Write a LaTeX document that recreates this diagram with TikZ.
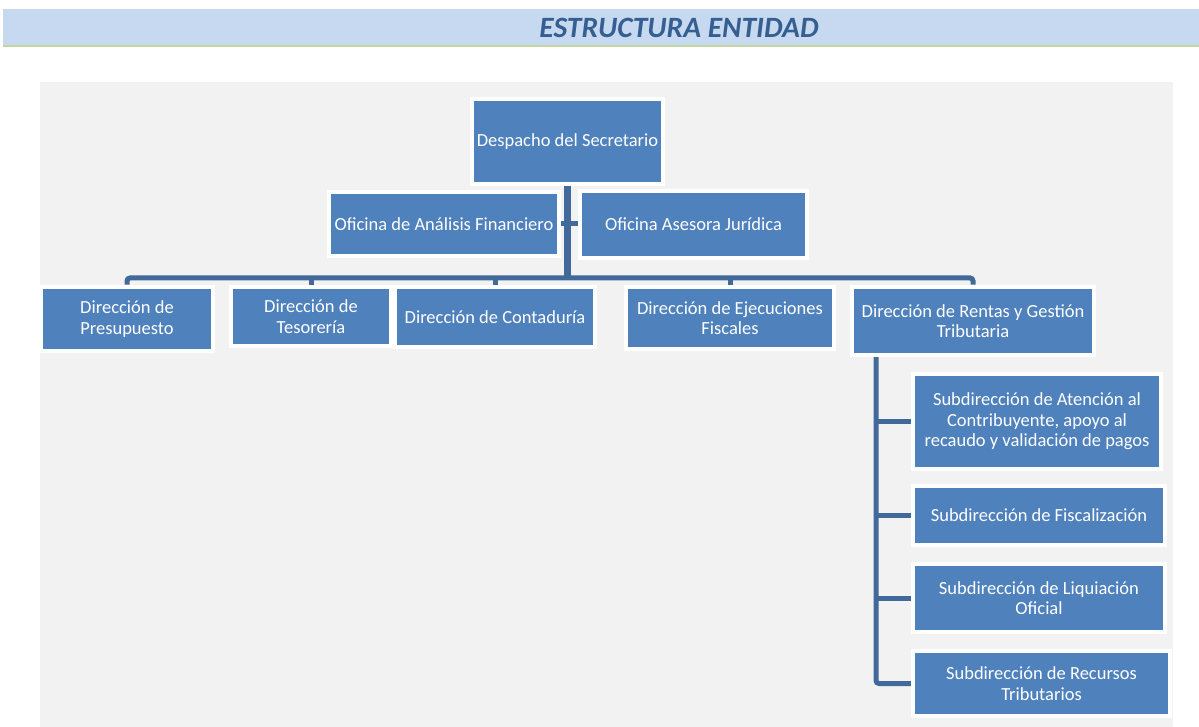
\documentclass[tikz,border=0pt]{standalone}
\usepackage{fontspec}
\setmainfont{Carlito}
\pgfdeclarelayer{bg}
\pgfdeclarelayer{panel}
\pgfsetlayers{panel,bg,main}
\definecolor{boxblue}{HTML}{4F81BD}
\definecolor{connblue}{HTML}{41699A}
\definecolor{bandblue}{HTML}{C6D9F1}
\definecolor{bandgreen}{HTML}{C2D69B}
\definecolor{titleblue}{HTML}{365F91}
\definecolor{panelgray}{HTML}{F2F2F2}
\begin{document}
\begin{tikzpicture}[x=1pt,y=-1pt,
  unit/.style={rectangle, fill=boxblue, draw=white, line width=4.5pt, text=white,
    align=center, inner sep=0pt, font=\fontsize{18.5}{20.5}\selectfont},
  conn/.style={draw=connblue, line width=5pt},
  trunk/.style={draw=connblue, line width=6.5pt}]
\useasboundingbox (0,0) rectangle (1199,727);
% header
\fill[bandblue] (3,9) rectangle (1199,45);
\fill[bandgreen] (3,45) rectangle (1199,47.5);
\node[font=\fontsize{29.5}{32}\selectfont\bfseries\itshape, text=titleblue] (title) at (679,28) {ESTRUCTURA ENTIDAD};
% panel
\begin{pgfonlayer}{panel}
\fill[panelgray] (40,82) rectangle (1173,727);
\end{pgfonlayer}
% nodes
\node[unit, minimum width=191pt, minimum height=85pt] (desp) at (567.5,141.5) {Despacho del Secretario};
\node[unit, minimum width=230pt, minimum height=64pt] (ofa) at (444,224) {Oficina de Análisis Financiero};
\node[unit, minimum width=227pt, minimum height=67pt] (ofj) at (693.5,224.5) {Oficina Asesora Jurídica};
\node[unit, minimum width=172pt, minimum height=64pt] (pres) at (127,319) {Dirección de\\Presupuesto};
\node[unit, minimum width=160pt, minimum height=59pt] (tes) at (311,316.5) {Dirección de\\Tesorería};
\node[unit, minimum width=200pt, minimum height=60pt] (cont) at (495,317) {Dirección de Contaduría};
\node[unit, minimum width=208pt, minimum height=62pt] (ejec) at (730,318) {Dirección de Ejecuciones\\Fiscales};
\node[unit, minimum width=242pt, minimum height=68pt] (rent) at (973,321) {Dirección de Rentas y Gestión\\Tributaria};
\node[unit, minimum width=248pt, minimum height=95pt] (s1) at (1037,421.5) {Subdirección de Atención al\\Contribuyente, apoyo al\\recaudo y validación de pagos};
\node[unit, minimum width=252pt, minimum height=59pt] (s2) at (1039,515.5) {Subdirección de Fiscalización};
\node[unit, minimum width=252pt, minimum height=68pt] (s3) at (1039,598) {Subdirección de Liquiación\\Oficial};
\node[unit, minimum width=257pt, minimum height=65pt] (s4) at (1041.5,683.5) {Subdirección de Recursos\\Tributarios};
% connectors
\coordinate (bar) at (567,278);
\coordinate (rtop) at (876,356);
\begin{pgfonlayer}{bg}
\draw[trunk] (desp.south) -- (desp.south |- bar);
\draw[conn] (ofa.east) -- (ofa.east -| ofj.west);
\draw[conn, rounded corners=3pt] (pres.north) |- (bar) -| (rent.north);
\draw[conn] (tes.north) -- (tes.north |- bar);
\draw[conn] (cont.north) -- (cont.north |- bar);
\draw[conn] (ejec.north) -- (ejec.north |- bar);
\draw[conn, rounded corners=3pt] (rtop) |- (s4.west);
\draw[conn] (s1.west -| rtop) -- (s1.west);
\draw[conn] (s2.west -| rtop) -- (s2.west);
\draw[conn] (s3.west -| rtop) -- (s3.west);
\end{pgfonlayer}
\end{tikzpicture}
\end{document}
